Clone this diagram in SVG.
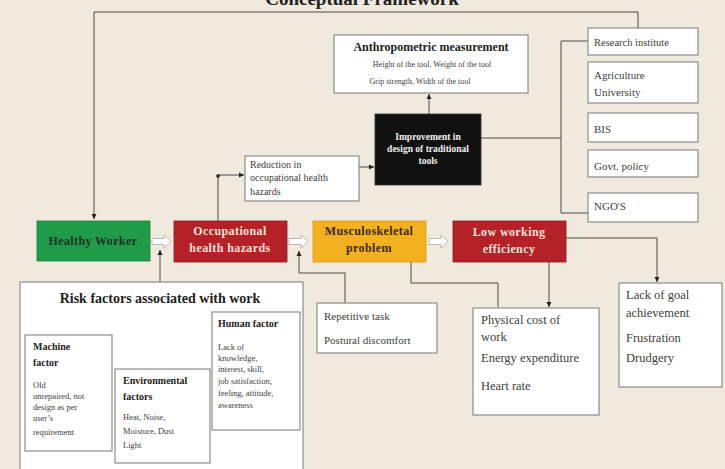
<svg xmlns="http://www.w3.org/2000/svg" width="725" height="469" viewBox="0 0 725 469">
<defs>
<marker id="ah" markerWidth="6" markerHeight="6" refX="5" refY="3" orient="auto" markerUnits="userSpaceOnUse">
<path d="M0,0.5 L5,3 L0,5.5 Z" fill="#222"/>
</marker>
<style>
.bg{fill:#efe9de}
.wb{fill:#fff;stroke:#8d8d8a;stroke-width:1.2}
.con{fill:none;stroke:#4a4a48;stroke-width:1}
.ha{fill:#fff;stroke:#a9a9a6;stroke-width:0.8}
.t{font-family:"Liberation Serif","DejaVu Serif",serif;fill:#3d3d3d}
.b{font-weight:bold;fill:#222}
.w{fill:#f2f2f2}
.mt{font-family:"Liberation Serif","DejaVu Serif",serif;font-weight:bold;font-size:12px;text-anchor:middle;letter-spacing:0.4px}
.cr{fill:#f6e3d6}
</style>
</defs>
<rect class="bg" x="0" y="0" width="725" height="469"/>
<text class="t b" x="362" y="5" font-size="19" text-anchor="middle">Conceptual Framework</text>

<g id="connectors">
<path class="con" d="M638 28 V12 H94 V219" marker-end="url(#ah)"/>
<path class="con" d="M218 221 V175 H244" marker-end="url(#ah)"/>
<circle cx="218" cy="176" r="1.8" fill="#222"/>
<path class="con" d="M359 167 H374" marker-end="url(#ah)"/>
<path class="con" d="M429 114 V94" marker-end="url(#ah)"/>
<path class="con" d="M481 138 H561"/>
<path class="con" d="M588 41 H561 V213 H588"/>
<path class="con" d="M160 282 V250" marker-end="url(#ah)"/>
<path class="con" d="M345 303 V273 H299 V251" marker-end="url(#ah)"/>
<path class="con" d="M411 262 V283 H498 V307"/>
<path class="con" d="M549 262 V307" marker-end="url(#ah)"/>
<path class="con" d="M566 238 H657 V282" marker-end="url(#ah)"/>
<path class="ha" d="M152 238.5 H164 V235 L171 241.5 L164 248 V244.5 H152 Z"/>
<path class="ha" d="M289 238.5 H301 V235 L308 241.5 L301 248 V244.5 H289 Z"/>
<path class="ha" d="M429 238.5 H441 V235 L448 241.5 L441 248 V244.5 H429 Z"/>
</g>

<g id="healthy-worker">
<rect x="37" y="221" width="113" height="40" fill="#1f9b49" stroke="#178038" stroke-width="0.8"/>
<text class="mt" x="93" y="245" style="fill:#1d3321">Healthy Worker</text>
</g>
<g id="occupational-hazards">
<rect x="174" y="221" width="113" height="41" fill="#b42127" stroke="#951a1f" stroke-width="0.8"/>
<text class="mt cr" x="230" y="235">Occupational</text>
<text class="mt cr" x="230" y="252">health hazards</text>
</g>
<g id="musculoskeletal">
<rect x="313" y="221" width="113" height="41" fill="#f3b11f" stroke="#d99a14" stroke-width="0.8"/>
<text class="mt" x="369" y="235" style="fill:#3b2a0c">Musculoskeletal</text>
<text class="mt" x="369" y="252" style="fill:#3b2a0c">problem</text>
</g>
<g id="low-efficiency">
<rect x="453" y="221" width="113" height="41" fill="#b42127" stroke="#951a1f" stroke-width="0.8"/>
<text class="mt cr" x="509" y="236">Low working</text>
<text class="mt cr" x="509" y="253">efficiency</text>
</g>

<g id="anthropometric">
<rect class="wb" x="334" y="35" width="194" height="58"/>
<text class="t b" x="431" y="51" font-size="12" text-anchor="middle">Anthropometric measurement</text>
<text class="t" x="432" y="67" font-size="8" text-anchor="middle">Height of the tool, Weight of  the tool</text>
<text class="t" x="420" y="84" font-size="8" text-anchor="middle">Grip strength, Width of the tool</text>
</g>
<g id="improvement">
<rect x="375" y="114" width="106" height="71" fill="#111" stroke="#333" stroke-width="0.8"/>
<text class="t b w" x="428" y="140" font-size="9.5" text-anchor="middle">Improvement in</text>
<text class="t b w" x="428" y="152" font-size="9.5" text-anchor="middle">design of traditional</text>
<text class="t b w" x="428" y="164" font-size="9.5" text-anchor="middle">tools</text>
</g>
<g id="reduction">
<rect class="wb" x="245" y="156" width="114" height="45"/>
<text class="t" x="250" y="168" font-size="10">Reduction in</text>
<text class="t" x="250" y="181" font-size="10">occupational health</text>
<text class="t" x="250" y="195" font-size="10">hazards</text>
</g>

<g id="research-institute">
<rect class="wb" x="588" y="28" width="110" height="27"/>
<text class="t" x="594" y="46" font-size="10.5">Research institute</text>
</g>
<g id="agriculture-university">
<rect class="wb" x="588" y="62" width="110" height="41"/>
<text class="t" x="594" y="79" font-size="11">Agriculture</text>
<text class="t" x="594" y="96" font-size="11">University</text>
</g>
<g id="bis">
<rect class="wb" x="588" y="113" width="110" height="29"/>
<text class="t" x="594" y="133" font-size="11">BIS</text>
</g>
<g id="govt-policy">
<rect class="wb" x="588" y="150" width="110" height="27"/>
<text class="t" x="594" y="170" font-size="11">Govt. policy</text>
</g>
<g id="ngos">
<rect class="wb" x="588" y="193" width="110" height="29"/>
<text class="t" x="594" y="210" font-size="11">NGO'S</text>
</g>

<g id="risk-factors">
<rect class="wb" x="20" y="282" width="283" height="195"/>
<text class="t b" x="160" y="303" font-size="14" text-anchor="middle">Risk factors associated with work</text>
</g>
<g id="machine-factor">
<rect class="wb" x="25" y="335" width="87" height="116"/>
<text class="t b" x="33" y="350" font-size="10">Machine</text>
<text class="t b" x="33" y="366" font-size="10">factor</text>
<text class="t" x="33" y="388" font-size="8.5">Old</text>
<text class="t" x="33" y="399" font-size="8.5">unrepaired, not</text>
<text class="t" x="33" y="410" font-size="8.5">design as per</text>
<text class="t" x="33" y="421" font-size="8.5">user’s</text>
<text class="t" x="33" y="435" font-size="8.5">requirement</text>
</g>
<g id="environmental-factors">
<rect class="wb" x="115" y="369" width="95" height="94"/>
<text class="t b" x="123" y="384" font-size="10">Environmental</text>
<text class="t b" x="123" y="400" font-size="10">factors</text>
<text class="t" x="123" y="420" font-size="8.5">Heat, Noise,</text>
<text class="t" x="123" y="434" font-size="8.5">Moisture, Dust</text>
<text class="t" x="123" y="448" font-size="8.5">Light</text>
</g>
<g id="human-factor">
<rect class="wb" x="212" y="312" width="88" height="118"/>
<text class="t b" x="218" y="327" font-size="10">Human factor</text>
<text class="t" x="218" y="350" font-size="8.5">Lack of</text>
<text class="t" x="218" y="361" font-size="8.5">knowledge,</text>
<text class="t" x="218" y="372" font-size="8.5">interest, skill,</text>
<text class="t" x="218" y="384" font-size="8.5">job satisfaction,</text>
<text class="t" x="218" y="396" font-size="8.5">feeling, attitude,</text>
<text class="t" x="218" y="408" font-size="8.5">awareness</text>
</g>

<g id="repetitive">
<rect class="wb" x="317" y="303" width="120" height="50"/>
<text class="t" x="324" y="320" font-size="11">Repetitive task</text>
<text class="t" x="324" y="344" font-size="11">Postural discomfort</text>
</g>
<g id="physical-cost">
<rect class="wb" x="473" y="308" width="126" height="107"/>
<text class="t" x="481" y="324" font-size="12.5">Physical cost of</text>
<text class="t" x="481" y="341" font-size="12.5">work</text>
<text class="t" x="481" y="362" font-size="12.5">Energy expenditure</text>
<text class="t" x="481" y="390" font-size="12.5">Heart rate</text>
</g>
<g id="lack-goal">
<rect class="wb" x="619" y="283" width="103" height="104"/>
<text class="t" x="626" y="299" font-size="12.5">Lack of goal</text>
<text class="t" x="626" y="317" font-size="12.5">achievement</text>
<text class="t" x="626" y="342" font-size="12.5">Frustration</text>
<text class="t" x="626" y="362" font-size="12.5">Drudgery</text>
</g>
</svg>
